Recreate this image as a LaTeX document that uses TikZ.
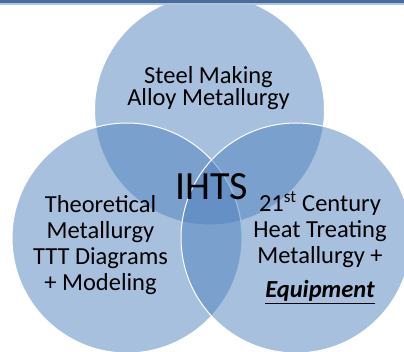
\documentclass[tikz,border=0pt]{standalone}
\usepackage{fontspec}
\setmainfont{Carlito}
\definecolor{vennblue}{RGB}{79,129,189}
\definecolor{bardark}{RGB}{74,108,156}
\definecolor{barlight}{RGB}{176,197,226}
\begin{document}
\begin{tikzpicture}[x=1pt,y=-1pt,
  venn/.style={circle, draw=white, line width=1pt, fill=vennblue,
    fill opacity=0.5, minimum size=230pt, inner sep=0pt},
  lbl/.style={align=center, text=black, inner sep=0pt, anchor=base},
]
\useasboundingbox (0,0) rectangle (404,351);
\begin{scope}
  \clip (0,0) rectangle (404,351);
  % three overlapping discs
  \node[venn] (steel)   at (209.5,110) {};
  \node[venn] (theory)  at (127,238) {};
  \node[venn] (century) at (296,238) {};
\end{scope}
% header band
\fill[bardark]  (0,0) rectangle (404,2.8);
\fill[barlight] (0,2.8) rectangle (404,4.8);
% labels (anchored on the baseline of their last line)
\node[lbl, font=\fontsize{24.5}{22.7}\selectfont] (steeltext) at (208.5,105.7)
  {Steel Making\\Alloy Metallurgy};
\node[lbl, font=\fontsize{24.5}{25.7}\selectfont] (theorytext) at (100.5,290)
  {Theoretical\\Metallurgy\\TTT Diagrams\\+ Modeling};
\node[lbl, font=\fontsize{24.5}{26}\selectfont] (centurytext) at (320,297.5)
  {21\textsuperscript{st} Century\\Heat Treating\\Metallurgy +\\[8pt]
   \textbf{\textit{\underline{Equipment}}}};
\node[lbl, font=\fontsize{40}{44}\selectfont] (ihts) at (211.5,199) {IHTS};
\end{tikzpicture}
\end{document}
